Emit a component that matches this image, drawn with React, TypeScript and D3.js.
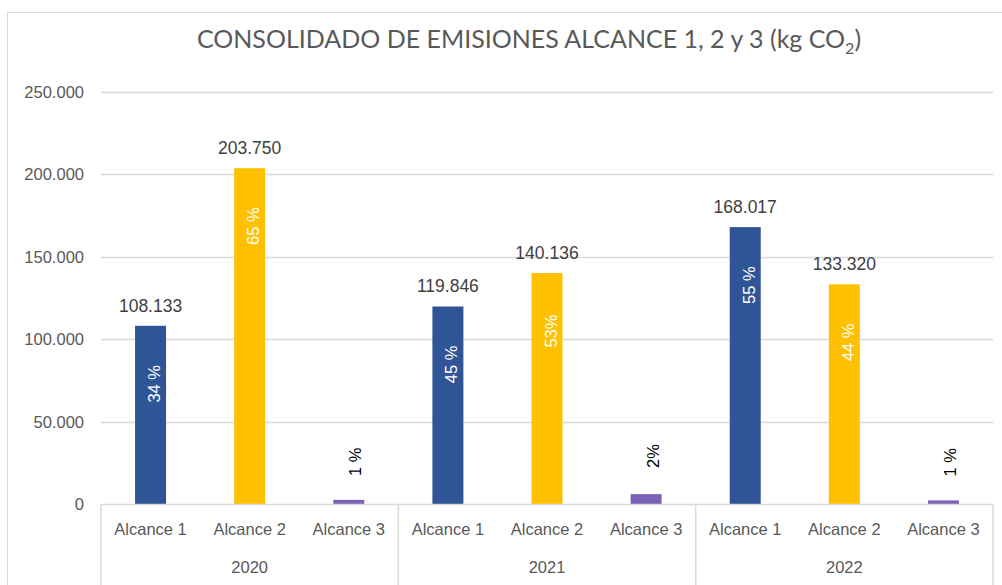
import React, { useEffect, useRef } from 'react';
import * as d3 from 'd3';

const years = ['2020', '2021', '2022'];
const scopes = ['Alcance 1', 'Alcance 2', 'Alcance 3'];
const alcance1 = [108133, 119846, 168017];
const alcance2 = [203750, 140136, 133320];
const alcance3 = [2500, 6000, 2200];
const pctLabels = [
  ['34 %', '65 %', '1 %'],
  ['45 %', '53%', '2%'],
  ['55 %', '44 %', '1 %'],
];
const yTicks = [0, 50000, 100000, 150000, 200000, 250000];
const colors = ['#2F5597', '#FFC000', '#7B62B8'];

const W = 1002;
const H = 585;

export default function App() {
  const ref = useRef<SVGSVGElement>(null);

  useEffect(() => {
    const svg = d3.select(ref.current);
    svg.selectAll('*').remove();

    const left = 101, right = 993, top = 92, bottom = 504;
    const font = '"Liberation Sans", Arial, sans-serif';

    // chart frame
    svg.append('rect')
      .attr('x', 7.5).attr('y', 12.5)
      .attr('width', 1100).attr('height', 700)
      .attr('fill', '#fff').attr('stroke', '#d9d9d9');

    // title
    const title = svg.append('text')
      .attr('x', 529).attr('y', 48)
      .attr('text-anchor', 'middle')
      .attr('font-family', 'Lato, sans-serif')
      .attr('font-size', 25)
      .attr('fill', '#595959')
      .text('CONSOLIDADO DE EMISIONES ALCANCE 1, 2 y 3 (kg CO');
    title.append('tspan').attr('font-size', 16).attr('dy', 6).text('2');
    title.append('tspan').attr('dy', -6).text(')');

    const y = d3.scaleLinear().domain([0, 250000]).range([bottom, top]);
    const keys = years.flatMap(yr => scopes.map(s => yr + '|' + s));
    const x = d3.scaleBand().domain(keys).range([left, right]).paddingInner(0).paddingOuter(0);
    const barW = 31;

    const fmt = (v: number) => d3.format(',')(v).replace(/,/g, '.');

    // gridlines
    svg.append('g').selectAll('line')
      .data(yTicks.slice(1))
      .join('line')
      .attr('x1', left).attr('x2', right)
      .attr('y1', d => Math.round(y(d)) + 0.5).attr('y2', d => Math.round(y(d)) + 0.5)
      .attr('stroke', '#d9d9d9').attr('stroke-width', 1.5);

    // y labels
    svg.append('g').selectAll('text')
      .data(yTicks)
      .join('text')
      .attr('x', 84).attr('y', d => y(d) + 6)
      .attr('text-anchor', 'end')
      .attr('font-family', font).attr('font-size', 16.5)
      .attr('fill', '#595959')
      .text(d => fmt(d));

    const rows = years.flatMap((yr, i) => [
      { key: yr + '|' + scopes[0], v: alcance1[i], c: 0, pct: pctLabels[i][0] },
      { key: yr + '|' + scopes[1], v: alcance2[i], c: 1, pct: pctLabels[i][1] },
      { key: yr + '|' + scopes[2], v: alcance3[i], c: 2, pct: pctLabels[i][2] },
    ]);

    const g = svg.append('g');
    g.selectAll('rect')
      .data(rows)
      .join('rect')
      .attr('x', d => x(d.key)! + x.bandwidth() / 2 - barW / 2)
      .attr('y', d => y(d.v))
      .attr('width', barW)
      .attr('height', d => bottom - y(d.v))
      .attr('fill', d => colors[d.c]);

    // value labels (alcance 1 & 2)
    g.selectAll('text.val')
      .data(rows.filter(d => d.c < 2))
      .join('text')
      .attr('class', 'val')
      .attr('x', d => x(d.key)! + x.bandwidth() / 2)
      .attr('y', d => y(d.v) - 14)
      .attr('text-anchor', 'middle')
      .attr('font-family', font).attr('font-size', 17.5)
      .attr('fill', '#404040')
      .text(d => fmt(d.v));

    // percentage labels
    g.selectAll('text.pct')
      .data(rows)
      .join('text')
      .attr('class', 'pct')
      .attr('transform', d => {
        const cx = x(d.key)! + x.bandwidth() / 2;
        const cy = d.c < 2 ? y(d.v) + 58 : y(d.v) - 38;
        const dx = d.c < 2 ? 3.5 : 6.5;
        return `translate(${cx + dx},${cy}) rotate(-90)`;
      })
      .attr('text-anchor', 'middle')
      .attr('dominant-baseline', 'central')
      .attr('font-family', font).attr('font-size', 16.5)
      .attr('fill', d => (d.c < 2 ? '#ffffff' : '#000000'))
      .text(d => d.pct);

    // category axis
    const ax = svg.append('g').attr('stroke', '#d9d9d9').attr('stroke-width', 1.5);
    ax.append('line').attr('x1', left).attr('x2', right).attr('y1', bottom + 0.5).attr('y2', bottom + 0.5);
    const seps = [0, 3, 6, 9].map(i => left + i * x.bandwidth());
    ax.selectAll('line.sep')
      .data(seps)
      .join('line')
      .attr('class', 'sep')
      .attr('x1', d => d).attr('x2', d => d)
      .attr('y1', bottom).attr('y2', H);

    svg.append('g').selectAll('text')
      .data(keys)
      .join('text')
      .attr('x', d => x(d)! + x.bandwidth() / 2)
      .attr('y', 535)
      .attr('text-anchor', 'middle')
      .attr('font-family', font).attr('font-size', 16.5)
      .attr('fill', '#595959')
      .text(d => d.split('|')[1]);

    svg.append('g').selectAll('text')
      .data(years)
      .join('text')
      .attr('x', (d, i) => left + (i * 3 + 1.5) * x.bandwidth())
      .attr('y', 573)
      .attr('text-anchor', 'middle')
      .attr('font-family', font).attr('font-size', 16.5)
      .attr('fill', '#595959')
      .text(d => d);
  }, []);

  return (
    <div style={{ position: 'absolute', left: 0, top: 0 }}>
      <svg ref={ref} width={W} height={H} style={{ display: 'block', background: '#fff' }} />
    </div>
  );
}
